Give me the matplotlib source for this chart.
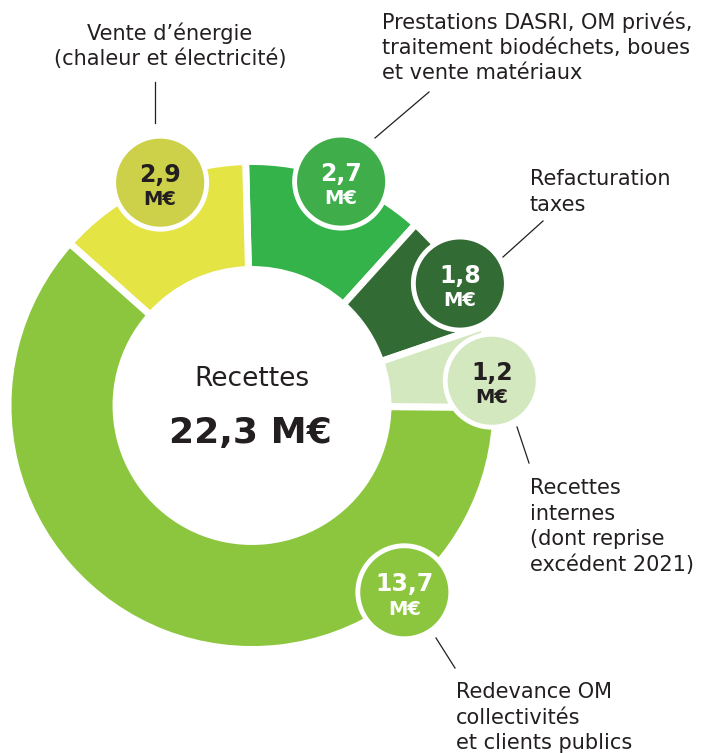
import numpy as np
import matplotlib
matplotlib.use("Agg")
import matplotlib.pyplot as plt
from matplotlib.patches import Circle

# Recettes (M€), clockwise from 12 o'clock
values = [2.7, 1.8, 1.2, 13.7, 2.9]
value_labels = ["2,7", "1,8", "1,2", "13,7", "2,9"]
wedge_colors = ["#33b34a", "#336b35", "#d4e8c0", "#8cc63f", "#e5e445"]
bubble_colors = ["#3fae4a", "#336b35", "#d4e8c0", "#8cc63f", "#cdd14a"]
bubble_text = ["white", "white", "#231f20", "white", "#231f20"]
bubble_angles = [68.3, 30.4, 5.9, -50.8, 112.4]   # degrees, from the donut centre

categories = [
    ["Prestations DASRI, OM privés,", "traitement biodéchets, boues", "et vente matériaux"],
    ["Refacturation", "taxes"],
    ["Recettes", "internes", "(dont reprise", "excédent 2021)"],
    ["Redevance OM", "collectivités", "et clients publics"],
    ["Vente d\u2019énergie", "(chaleur et électricité)"],
]
total_label = "22,3 M€"

W, H = 701, 753
DARK = "#231f20"
FONT = "DejaVu Sans"

fig = plt.figure(figsize=(W / 100, H / 100), dpi=100)
ax = fig.add_axes([0, 0, 1, 1])


def Y(y):
    # pixel rows measured from the top
    return H - y


cx, cy = 252, Y(405.5)
R_OUT, R_IN = 244, 136

ax.pie(values, colors=wedge_colors, startangle=91.5, counterclock=False,
       radius=R_OUT, center=(cx, cy),
       wedgeprops=dict(width=R_OUT - R_IN, edgecolor="white", linewidth=5))

# value bubbles sitting on the outer rim
R_BUB = 241
for lab, col, tcol, ang in zip(value_labels, bubble_colors, bubble_text, bubble_angles):
    bx = cx + R_BUB * np.cos(np.radians(ang))
    by = cy + R_BUB * np.sin(np.radians(ang))
    ax.add_patch(Circle((bx, by), 46.5, facecolor=col, edgecolor="white",
                        linewidth=3.5, zorder=3))
    ax.text(bx, by + 8, lab, ha="center", va="center", color=tcol,
            fontsize=17, fontweight="bold", family=FONT, zorder=4)
    ax.text(bx, by - 17, "M€", ha="center", va="center", color=tcol,
            fontsize=14, fontweight="bold", family=FONT, zorder=4)

# centre
ax.text(cx, Y(379), "Recettes", ha="center", va="center", color=DARK,
        fontsize=19, family=FONT)
ax.text(cx - 2, Y(433), total_label, ha="center", va="center", color=DARK,
        fontsize=26, fontweight="bold", family=FONT)

# category labels: (x, first line y, horizontal alignment)
label_pos = [(382, 22, "left"), (530, 179, "left"), (530, 488, "left"),
             (456, 692, "left"), (170, 33, "center")]
STEP = 25.5
for lines, (x, y0, ha) in zip(categories, label_pos):
    for i, line in enumerate(lines):
        ax.text(x, Y(y0 + i * STEP), line, ha=ha, va="center", color=DARK,
                fontsize=15, family=FONT)

# leader lines
leaders = [((375, 138), (429, 92)), ((503, 257), (543, 221)),
           ((517, 427), (529, 463)), ((436, 638), (455, 668)),
           ((155, 82), (155, 123))]
for (x1, y1), (x2, y2) in leaders:
    ax.plot([x1, x2], [Y(y1), Y(y2)], color=DARK, lw=0.9)

ax.set_xlim(0, W)
ax.set_ylim(0, H)
ax.set_aspect("equal")
ax.axis("off")

fig.savefig("out.png", dpi=100)
